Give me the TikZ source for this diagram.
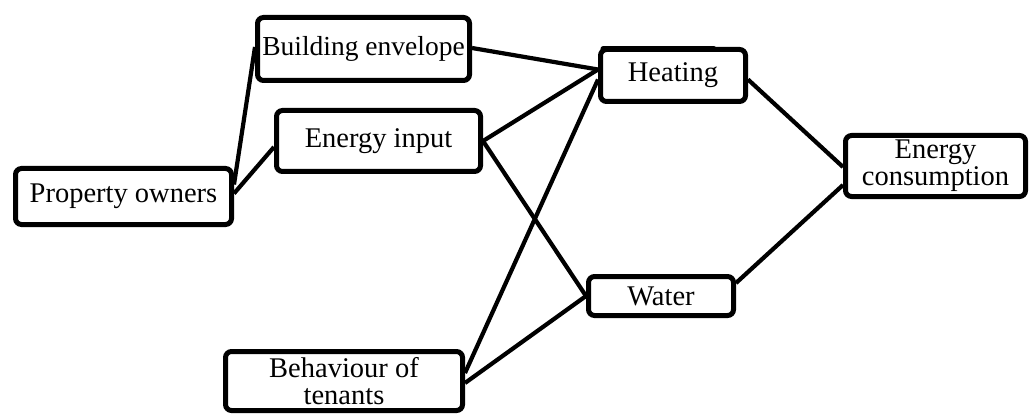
\documentclass[tikz,border=0pt]{standalone}
\usepackage{fontspec}
\setmainfont{Liberation Serif}
\usetikzlibrary{calc}
\begin{document}
\begin{tikzpicture}[x=1pt,y=-1pt,
  box/.style={draw, line width=5pt, rounded corners=6pt, inner sep=0pt, align=center,
    font=\fontsize{28.5}{27}\selectfont, fill=white},
  link/.style={line width=4.2pt}]
\useasboundingbox (0,0) rectangle (1032,414);
\node[box, minimum width=212pt, minimum height=63pt, font=\fontsize{27.5}{27}\selectfont] (be) at (363.5,49) {Building envelope};
\node[box, minimum width=204pt, minimum height=61pt] (ei) at (378.5,141) {Energy input};
\node[box, minimum width=216pt, minimum height=56pt] (po) at (123.5,196.5) {Property owners};
\node[box, minimum width=145pt, minimum height=52pt] (heat) at (673,75.5) {Heating};
\node[box, minimum width=180pt, minimum height=61pt] (ec) at (935.5,166) {Energy\\consumption};
\node[box, minimum width=237pt, minimum height=59pt] (bot) at (344,381) {Behaviour of\\tenants};
\node[box, minimum width=145pt, minimum height=39pt] (wat) at (661,296) {Water};
\draw[line width=5pt, line cap=round] ($(heat.north west)+(5,2)$) -- ($(heat.north east)+(-34,2)$);
\draw[link] ($(po.east)+(0,-12)$) -- ($(be.west)+(0,-2)$);
\draw[link] ($(po.east)+(0,-3)$) -- ($(ei.west)+(0,6)$);
\draw[link] ($(be.east)+(0,-1)$) -- ($(heat.west)+(0,-6)$);
\draw[link] (ei.east) -- ($(heat.west)+(0,-6)$);
\draw[link] (ei.east) -- (wat.west);
\draw[link] ($(bot.east)+(0,-8)$) -- ($(heat.west)+(0,4)$);
\draw[link] ($(bot.east)+(0,2)$) -- (wat.west);
\draw[link] ($(heat.east)+(0,4)$) -- ($(ec.west)+(0,1)$);
\draw[link] ($(wat.east)+(0,-13)$) -- ($(ec.west)+(0,19)$);
\end{tikzpicture}
\end{document}
